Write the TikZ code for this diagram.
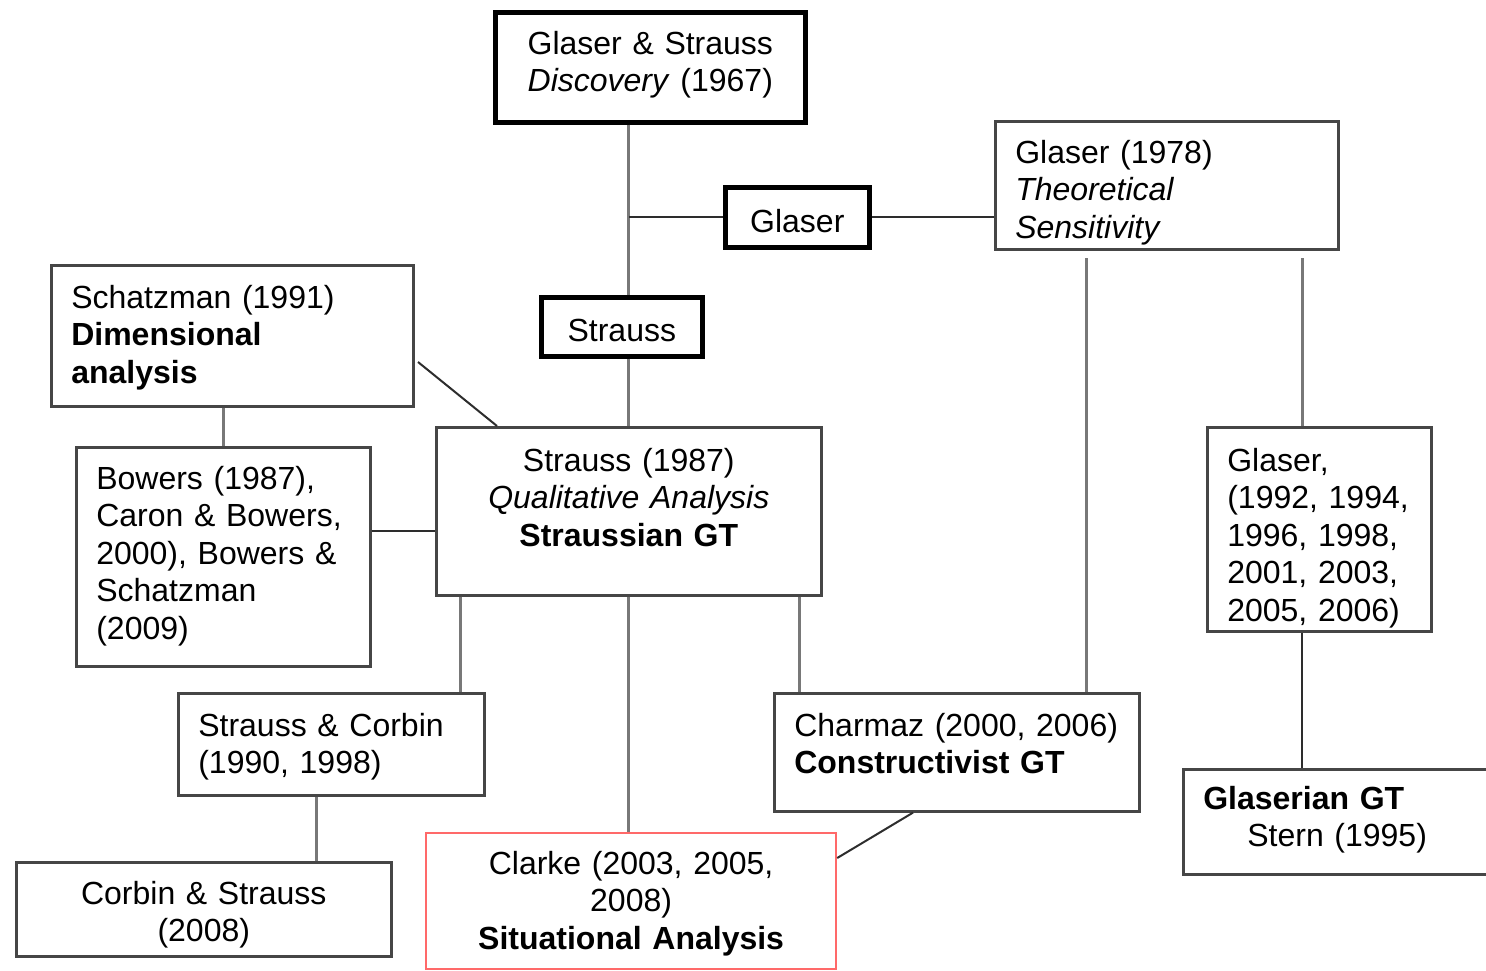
\documentclass[tikz,border=0pt]{standalone}
\usepackage{fontspec}
\setmainfont{Liberation Sans}
\usetikzlibrary{calc}
\definecolor{boxgray}{RGB}{70,70,70}
\definecolor{linegray}{RGB}{120,120,120}
\definecolor{linedark}{RGB}{45,45,45}
\definecolor{clarkered}{RGB}{255,105,105}
\begin{document}
\begin{tikzpicture}[x=0.5pt,y=-0.5pt,
  every node/.style={font=\fontsize{16pt}{18.75pt}\selectfont, inner xsep=10pt, inner ysep=0pt, anchor=north west},
  thinbox/.style={draw=boxgray, line width=1.3pt},
  thickbox/.style={draw=black, line width=2.3pt},
  redbox/.style={draw=clarkered, line width=1.1pt},
  vline/.style={draw=linegray, line width=1.5pt},
  hline/.style={draw=linedark, line width=1pt}]
\useasboundingbox (0,0) rectangle (1486,970);
\clip (0,0) rectangle (1486,970);

\node[thickbox, align=center, text width=135pt, text height=21pt, text depth=34pt] (gs) at (493,10) {Glaser \& Strauss\\\textit{Discovery} (1967)};
\node[thickbox, align=center, text width=52pt, text height=22.5pt, text depth=7.5pt] (gl) at (723,185) {Glaser};
\node[thinbox, align=left, text width=151.5pt, text height=21pt, text depth=43pt] (g78) at (994,120) {Glaser (1978)\\\textit{Theoretical}\\\textit{Sensitivity}};
\node[thickbox, align=center, text width=60.5pt, text height=22pt, text depth=7.5pt] (st) at (539,295) {Strauss};
\node[thinbox, align=left, text width=161pt, text height=21.5pt, text depth=49pt] (sch) at (50,264) {Schatzman (1991)\\\textbf{Dimensional}\\\textbf{analysis}};
\node[thinbox, align=left, text width=127pt, text height=21pt, text depth=88.5pt] (bow) at (75,446) {Bowers (1987),\\Caron \& Bowers,\\2000), Bowers \&\\Schatzman\\(2009)};
\node[thinbox, align=center, text width=172.5pt, text height=22pt, text depth=62pt] (s87) at (435,426) {Strauss (1987)\\\textit{Qualitative Analysis}\\\textbf{Straussian GT}};
\node[thinbox, align=left, text width=92pt, text height=22pt, text depth=80pt] (g92) at (1206,426) {Glaser,\\(1992, 1994,\\1996, 1998,\\2001, 2003,\\2005, 2006)};
\node[thinbox, align=left, text width=133pt, text height=21.5pt, text depth=29.5pt] (sc) at (177,692) {Strauss \& Corbin\\(1990, 1998)};
\node[thinbox, align=center, text width=167.5pt, text height=21pt, text depth=26pt] (cs) at (15,861) {Corbin \& Strauss\\(2008)};
\node[redbox, align=center, text width=185pt, text height=20.5pt, text depth=47.5pt] (cl) at (425,832) {Clarke (2003, 2005,\\2008)\\\textbf{Situational Analysis}};
\node[thinbox, align=left, text width=162.5pt, text height=21.5pt, text depth=37.5pt] (ch) at (773,692) {Charmaz (2000, 2006)\\\textbf{Constructivist GT}};
\node[thinbox, align=left, text width=139pt, text height=20pt, text depth=32.5pt] (gg) at (1182,768) {\textbf{Glaserian GT}\\\hspace*{22pt}Stern (1995)};

\coordinate (ga) at (1086,258);
\coordinate (gb) at (1302,258);
\coordinate (bj) at (0,531);
\coordinate (d1) at (418,362);
\coordinate (p1) at ($(s87.south west)+(25,0)$);
\coordinate (p2) at ($(s87.south east)+(-23,0)$);
\coordinate (p3) at (316,0);
\coordinate (p4) at ($(ch.south west)+(140,0)$);
\coordinate (p5) at ($(cl.north east)+(0,26)$);

\draw[vline] (gs.south -| s87.north) -- (st.north -| s87.north);
\draw[vline] (st.south -| s87.north) -- (s87.north);
\draw[hline] (gl.west) -- (gl.west -| s87.north);
\draw[hline] (gl.east) -- (gl.east -| g78.west);
\draw[vline] (ga) -- (ga |- ch.north);
\draw[vline] (gb) -- (gb |- g92.north);
\draw[hline] (g92.south -| gb) -- (gg.north -| gb);
\draw[vline] (sch.south -| bow.north) -- (bow.north);
\draw[hline] (bow.east |- bj) -- (s87.west |- bj);
\draw[hline] (d1) -- ($(s87.north west)+(62,0)$);
\draw[vline] (p1) -- (p1 |- sc.north);
\draw[vline] (s87.south) -- (s87.south |- cl.north);
\draw[vline] (p2) -- (p2 |- ch.north);
\draw[vline] (sc.south -| p3) -- (cs.north -| p3);
\draw[hline] (p4) -- (p5);
\end{tikzpicture}
\end{document}
